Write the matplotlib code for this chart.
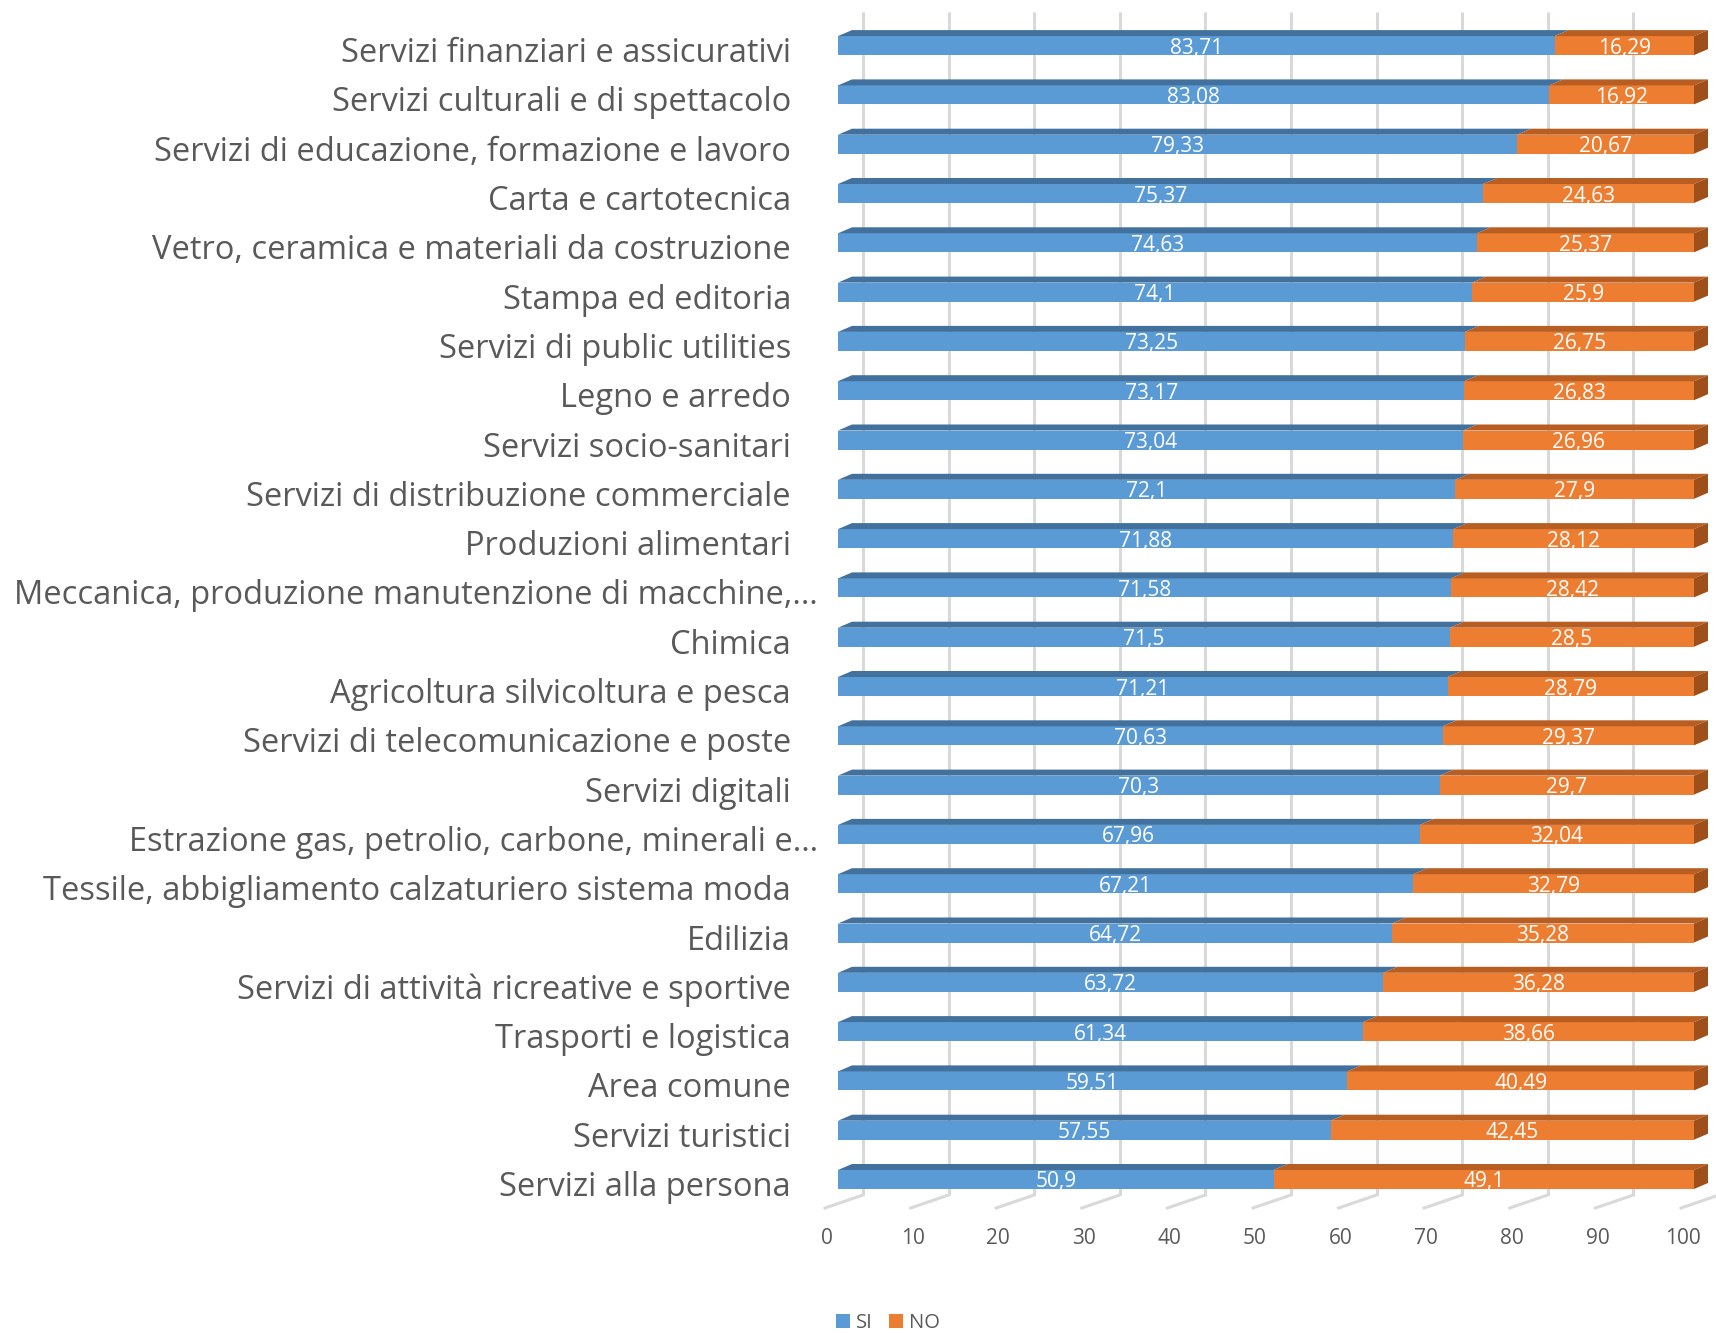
import matplotlib
matplotlib.use("Agg")
import matplotlib.pyplot as plt
from matplotlib.patches import Polygon, Patch
import numpy as np

categories = [
    "Servizi finanziari e assicurativi",
    "Servizi culturali e di spettacolo",
    "Servizi di educazione, formazione e lavoro",
    "Carta e cartotecnica",
    "Vetro, ceramica e materiali da costruzione",
    "Stampa ed editoria",
    "Servizi di public utilities",
    "Legno e arredo",
    "Servizi socio-sanitari",
    "Servizi di distribuzione commerciale",
    "Produzioni alimentari",
    "Meccanica, produzione manutenzione di macchine,…",
    "Chimica",
    "Agricoltura silvicoltura e pesca",
    "Servizi di telecomunicazione e poste",
    "Servizi digitali",
    "Estrazione gas, petrolio, carbone, minerali e…",
    "Tessile, abbigliamento calzaturiero sistema moda",
    "Edilizia",
    "Servizi di attività ricreative e sportive",
    "Trasporti e logistica",
    "Area comune",
    "Servizi turistici",
    "Servizi alla persona",
]
si_values = [83.71, 83.08, 79.33, 75.37, 74.63, 74.1, 73.25, 73.17, 73.04, 72.1,
             71.88, 71.58, 71.5, 71.21, 70.63, 70.3, 67.96, 67.21, 64.72, 63.72,
             61.34, 59.51, 57.55, 50.9]
no_values = [16.29, 16.92, 20.67, 24.63, 25.37, 25.9, 26.75, 26.83, 26.96, 27.9,
             28.12, 28.42, 28.5, 28.79, 29.37, 29.7, 32.04, 32.79, 35.28, 36.28,
             38.66, 40.49, 42.45, 49.1]
x_ticks = [0, 10, 20, 30, 40, 50, 60, 70, 80, 90, 100]
series_names = ["SI", "NO"]

FONT = ["Open Sans", "DejaVu Sans"]
plt.rcParams["font.family"] = FONT

W, H, DPI = 1716, 1333, 100
fig = plt.figure(figsize=(W / DPI, H / DPI), dpi=DPI)
fig.patch.set_facecolor("white")

# layout in pixels
x0_px, x100_px = 838, 1694
row_px = 49.3
last_center_px = 1179.5
ylo, yhi = -1.5, 23.9
ax_bottom_px = last_center_px - ylo * row_px
ax_top_px = last_center_px - yhi * row_px
ax = fig.add_axes([x0_px / W, 1 - ax_bottom_px / H,
                   (x100_px - x0_px) / W, (ax_bottom_px - ax_top_px) / H])
ax.set_xlim(0, 100)
ax.set_ylim(ylo, yhi)
ax.axis("off")

px_x = 100.0 / (x100_px - x0_px)   # data units per pixel (x)
px_y = 1.0 / row_px                 # data units per pixel (y)

blue, blue_top = "#5B9BD5", "#41719C"
orange, orange_top, orange_side = "#ED7D31", "#B85E22", "#9E4F1A"
grid_c = "#D9D9D9"
text_c = "#595959"

n = len(categories)
ypos = np.arange(n)[::-1]
h = 19 * px_y
dx, dy = 14 * px_x, 6 * px_y

# back-wall gridlines and floor lines
gdx = 25 * px_x
g_top = (last_center_px - 12) * px_y
g_bot = (last_center_px - 1195) * px_y
f_bot = (last_center_px - 1208) * px_y
for t in x_ticks:
    ax.plot([t + gdx, t + gdx], [g_bot, g_top], color=grid_c, lw=2.2,
            clip_on=False, zorder=0, solid_capstyle="butt")
    ax.plot([t - 13 * px_x, t + gdx], [f_bot, g_bot], color=grid_c, lw=2.2,
            clip_on=False, zorder=0)
    ax.text(t - 11 * px_x, (last_center_px - 1238) * px_y, str(t),
            ha="center", va="center", fontsize=15, color=text_c)

ax.barh(ypos, si_values, height=h, color=blue, zorder=2)
ax.barh(ypos, no_values, left=si_values, height=h, color=orange, zorder=2)

for y, s, o in zip(ypos, si_values, no_values):
    top = y + h / 2
    bot = y - h / 2
    ax.add_patch(Polygon([(0, top), (s, top), (s + dx, top + dy), (dx, top + dy)],
                         closed=True, facecolor=blue_top, edgecolor="none",
                         zorder=2, clip_on=False))
    ax.add_patch(Polygon([(s, top), (s + o, top), (s + o + dx, top + dy), (s + dx, top + dy)],
                         closed=True, facecolor=orange_top, edgecolor="none",
                         zorder=2, clip_on=False))
    ax.add_patch(Polygon([(s + o, bot), (s + o, top), (s + o + dx, top + dy), (s + o + dx, bot + dy)],
                         closed=True, facecolor=orange_side, edgecolor="none",
                         zorder=2, clip_on=False))
    ty = y - 2.5 * px_y
    ax.text(s / 2, ty, f"{s:g}".replace(".", ","), ha="center", va="center",
            color="white", fontsize=15, zorder=3)
    ax.text(s + o / 2, ty, f"{o:g}".replace(".", ","), ha="center", va="center",
            color="white", fontsize=15, zorder=3)

# category labels
for y, c in zip(ypos, categories):
    right_px = 818 if c.endswith("…") else 791
    ax.text((right_px - x0_px) * px_x, y - 8 * px_y, c, ha="right", va="center",
            fontsize=23.5, color=text_c, clip_on=False)

handles = [Patch(facecolor=blue, edgecolor="none"), Patch(facecolor=orange, edgecolor="none")]
fig.legend(handles, series_names, loc="center", bbox_to_anchor=(888 / W, 1 - 1323 / H),
           ncol=2, frameon=False, fontsize=14.5, handlelength=0.7, handleheight=0.7,
           handletextpad=0.3, columnspacing=0.8, labelcolor=text_c)

fig.savefig("out.png", dpi=DPI, facecolor="white")
